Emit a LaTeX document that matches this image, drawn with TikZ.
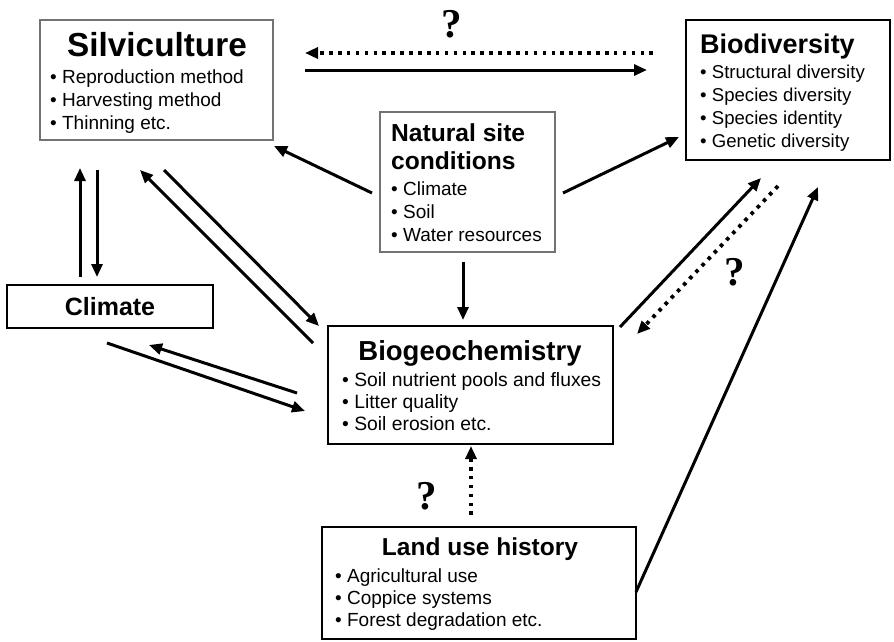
\documentclass[tikz,border=0pt]{standalone}
\usepackage{fontspec}
\setmainfont{Liberation Sans}
\newfontfamily\qmarkfont{Liberation Serif}
\usetikzlibrary{arrows.meta}
\begin{document}
\begin{tikzpicture}[x=1pt,y=-1pt,
  softbox/.style={draw=black!55, line width=1.5pt, inner sep=0pt},
  hardbox/.style={draw=black, line width=2.8pt, inner sep=0pt},
  ttl/.style={font=\fontsize{#1}{#1}\selectfont\bfseries, inner sep=0pt, anchor=base},
  itm/.style={font=\fontsize{19}{22}\selectfont, anchor=base west, inner sep=0pt},
  link/.style={line width=3pt, -{Triangle[length=13pt,width=11pt]}},
  maybe/.style={link, line width=3.8pt, dash pattern=on 3.6pt off 5.3pt},
  qm/.style={font=\fontsize{41}{41}\selectfont\qmarkfont\bfseries, inner sep=0pt}
]
\useasboundingbox[fill=white] (0,0) rectangle (894,641);

% ---- boxes ----
\node[softbox, minimum width=233pt, minimum height=120pt] (silv) at (156.5,80) {};
\node[softbox, minimum width=175pt, minimum height=140pt] (nat) at (467.5,182) {};
\node[hardbox, minimum width=204pt, minimum height=140pt] (bio) at (788,90) {};
\node[hardbox, minimum width=206pt, minimum height=43pt] (clim) at (110,306.5) {};
\node[hardbox, minimum width=285pt, minimum height=118pt] (bgc) at (470.5,385) {};
\node[hardbox, minimum width=314pt, minimum height=112pt] (land) at (479,583) {};

% ---- Silviculture ----
\node[ttl=33.3] (silvT) at (157,56) {Silviculture};
\node[itm] (silv1) at (50,83) {• Reproduction method};
\node[itm] (silv2) at (50,106) {• Harvesting method};
\node[itm] (silv3) at (50,129) {• Thinning etc.};

% ---- Natural site conditions ----
\node[ttl=24.6, anchor=base west] (natT1) at (391,141) {Natural site};
\node[ttl=24.6, anchor=base west] (natT2) at (391,169) {conditions};
\node[itm] (nat1) at (391,195) {• Climate};
\node[itm] (nat2) at (391,218) {• Soil};
\node[itm] (nat3) at (391,241) {• Water resources};

% ---- Biodiversity ----
\node[ttl=27, anchor=base west] (bioT) at (700,53) {Biodiversity};
\node[itm, font=\fontsize{18.6}{22}\selectfont] (bio1) at (700,78) {• Structural diversity};
\node[itm, font=\fontsize{18.6}{22}\selectfont] (bio2) at (700,101) {• Species diversity};
\node[itm, font=\fontsize{18.6}{22}\selectfont] (bio3) at (700,124) {• Species identity};
\node[itm, font=\fontsize{18.6}{22}\selectfont] (bio4) at (700,147) {• Genetic diversity};

% ---- Climate ----
\node[ttl=25, anchor=center] (climT) at (110,307) {Climate};

% ---- Biogeochemistry ----
\node[ttl=27.5] (bgcT) at (470,360) {Biogeochemistry};
\node[itm, font=\fontsize{19.3}{22}\selectfont] (bgc1) at (342,386) {• Soil nutrient pools and fluxes};
\node[itm, font=\fontsize{19.3}{22}\selectfont] (bgc2) at (342,408) {• Litter quality};
\node[itm, font=\fontsize{19.3}{22}\selectfont] (bgc3) at (342,430) {• Soil erosion etc.};

% ---- Land use history ----
\node[ttl=24.5] (landT) at (480,555) {Land use history};
\node[itm] (land1) at (335,582) {• Agricultural use};
\node[itm] (land2) at (335,604) {• Coppice systems};
\node[itm] (land3) at (335,626) {• Forest degradation etc.};

% ---- connector end points ----
\coordinate (silvE1) at (305,53);  \coordinate (bioW1) at (653,53);
\coordinate (silvE2) at (305,70);  \coordinate (bioW2) at (647,70);
\coordinate (natW) at (372,193);   \coordinate (silvSE) at (274,146);
\coordinate (natE) at (563,193);   \coordinate (bioSW) at (679,137);
\coordinate (natS) at (463,262);   \coordinate (bgcN) at (463,320);
\coordinate (silvS1) at (80,168);  \coordinate (climN1) at (80,277);
\coordinate (silvS2) at (97,170);  \coordinate (climN2) at (97,277);
\coordinate (silvS3) at (140,170); \coordinate (bgcNW1) at (313,343);
\coordinate (silvS4) at (164,170); \coordinate (bgcNW2) at (319,326);
\coordinate (climS1) at (107,343); \coordinate (bgcW1) at (305,411);
\coordinate (climS2) at (149,345); \coordinate (bgcW2) at (297,393);
\coordinate (bgcNE1) at (620,327); \coordinate (bioS1) at (761,178);
\coordinate (bgcNE2) at (637,334); \coordinate (bioS2) at (778,186);
\coordinate (landE) at (636,592);  \coordinate (bioS3) at (818,187);
\coordinate (landN) at (471,515);  \coordinate (bgcS) at (471,446);

% ---- connectors ----
\draw[maybe] (bioW1) -- (silvE1);
\draw[link] (silvE2) -- (bioW2);
\draw[link] (natW) -- (silvSE);
\draw[link] (natE) -- (bioSW);
\draw[link] (natS) -- (bgcN);
\draw[link] (climN1) -- (silvS1);
\draw[link] (silvS2) -- (climN2);
\draw[link] (bgcNW1) -- (silvS3);
\draw[link] (silvS4) -- (bgcNW2);
\draw[link] (climS1) -- (bgcW1);
\draw[link] (bgcW2) -- (climS2);
\draw[link] (bgcNE1) -- (bioS1);
\draw[maybe] (bioS2) -- (bgcNE2);
\draw[link] (landE) -- (bioS3);
\draw[maybe] (landN) -- (bgcS);

% ---- question marks ----
\node[qm] (q1) at (452,24) {?};
\node[qm] (q2) at (735,272) {?};
\node[qm] (q3) at (427,496) {?};
\end{tikzpicture}
\end{document}
